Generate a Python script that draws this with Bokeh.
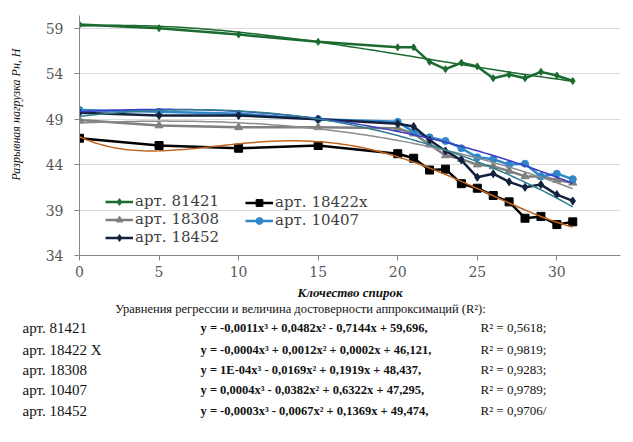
import numpy as np
from bokeh.plotting import figure
from bokeh.layouts import column
from bokeh.models import Range1d, Legend, LegendItem, FixedTicker
from bokeh.embed import file_html
from bokeh.resources import INLINE
from bokeh.core.properties import value

# ---------------- data ----------------
x_vals = [0, 5, 10, 15, 20, 21, 22, 23, 24, 25, 26, 27, 28, 29, 30, 31]
y_81421 = [59.4, 59.0, 58.3, 57.5, 56.9, 56.9, 55.3, 54.5, 55.2, 54.8, 53.5, 53.9, 53.5, 54.2, 53.8, 53.2]
y_18422 = [46.9, 46.1, 45.8, 46.1, 45.2, 44.7, 43.4, 43.5, 41.9, 41.4, 40.6, 39.9, 38.1, 38.3, 37.4, 37.7]
y_18308 = [48.9, 48.3, 48.1, 48.1, 48.0, 47.4, 46.2, 45.0, 44.6, 44.0, 43.8, 43.3, 42.7, 42.7, 42.3, 42.0]
y_10407 = [50.0, 49.8, 49.6, 49.0, 48.7, 47.6, 47.0, 46.6, 45.8, 44.8, 44.6, 44.0, 44.1, 42.7, 43.0, 42.4]
y_18452 = [49.7, 49.4, 49.4, 49.0, 48.5, 48.2, 46.7, 45.5, 44.5, 42.6, 43.0, 42.1, 41.5, 41.8, 40.7, 40.0]

series_names = ["арт. 81421", "арт. 18422x", "арт. 18308", "арт. 10407", "арт. 18452"]
trend_degrees = [3, 4, 3, 3, 3]
y_ticks = [34, 39, 44, 49, 54, 59]
x_ticks = [0, 5, 10, 15, 20, 25, 30]

eq_labels = ["арт. 81421", "арт. 18422 X", "арт. 18308", "арт. 10407", "арт. 18452"]
eq_texts = ["y = -0,0011x³ + 0,0482x² - 0,7144x + 59,696,",
            "y = -0,0004x³ + 0,0012x² + 0,0002x + 46,121,",
            "y = 1E-04x³ - 0,0169x² + 0,1919x + 48,437,",
            "y = 0,0004x³ - 0,0382x² + 0,6322x + 47,295,",
            "y = -0,0003x³ - 0,0067x² + 0,1369x + 49,474,"]
r2_texts = ["R² = 0,5618;", "R² = 0,9819;", "R² = 0,9283;", "R² = 0,9789;", "R² = 0,9706/"]
eq_title = "Уравнения регрессии и величина достоверности аппроксимаций (R²):"
y_title = "Разрывная нагрузка Pн, Н"
x_title = "Клочество спирок"

# ---------------- chart ----------------
SERIF = "'Liberation Serif', 'Times New Roman', serif"
WIDE = "'DejaVu Serif', serif"

H1 = 302
p = figure(width=633, height=H1, output_backend="svg", toolbar_location=None,
           x_range=Range1d(0, 34), y_range=Range1d(34, 60.4), frame_align=False,
           min_border_left=79, min_border_right=13, min_border_top=15, min_border_bottom=46)
p.outline_line_color = None
p.background_fill_color = "white"
p.border_fill_color = "white"

p.xgrid.grid_line_color = None
p.ygrid.grid_line_color = "#D9D9D9"
p.ygrid.ticker = FixedTicker(ticks=y_ticks)

for ax in (p.xaxis[0], p.yaxis[0]):
    ax.axis_line_color = "#868686"
    ax.major_tick_line_color = "#868686"
    ax.major_tick_out = 5
    ax.major_tick_in = 0
    ax.minor_tick_line_color = None
    ax.major_label_text_font = WIDE
    ax.major_label_text_font_size = "14px"
    ax.major_label_text_color = "#595959"

p.yaxis.ticker = FixedTicker(ticks=y_ticks)
p.xaxis.ticker = FixedTicker(ticks=x_ticks)
p.yaxis.major_label_standoff = 11
p.xaxis.major_label_standoff = 5

# leading no-break spaces lift the visible label above the frame centre, as in the source
p.yaxis.axis_label = "\u00a0" * 14 + y_title
p.yaxis.axis_label_text_font = SERIF
p.yaxis.axis_label_text_font_style = "italic"
p.yaxis.axis_label_text_font_size = "12px"
p.yaxis.axis_label_text_color = "#111111"
p.yaxis.axis_label_standoff = 20

p.xaxis.axis_label = x_title
p.xaxis.axis_label_text_font = SERIF
p.xaxis.axis_label_text_font_style = "bold italic"
p.xaxis.axis_label_text_font_size = "13px"
p.xaxis.axis_label_text_color = "#111111"
p.xaxis.axis_label_standoff = 5

x_fit = np.linspace(0, 31, 125)

data_series = [y_81421, y_18422, y_18308, y_10407, y_18452]
line_colors = ["#1B6B30", "#000000", "#7F7F7F", "#2F86C8", "#13213F"]
markers = ["diamond", "square", "triangle", "circle", "diamond"]
msizes = [7, 8, 8, 7, 8]
trend_colors = ["#1B6B30", "#C0631C", "#8C8C8C", "#3B3BC4", "#2F7F8F"]

items = []
for ys, lc, mk, ms, name in zip(data_series, line_colors, markers, msizes, series_names):
    lr = p.line(x_vals, ys, line_color=lc, line_width=2.5)
    sr = p.scatter(x_vals, ys, marker=mk, size=ms, fill_color=lc, line_color=lc)
    items.append(LegendItem(label=name, renderers=[lr, sr]))

for ys, tc, deg in zip(data_series, trend_colors, trend_degrees):
    coefs = np.polyfit(x_vals, ys, deg)
    p.line(x_fit, np.polyval(coefs, x_fit), line_color=tc, line_width=1.5)

leg_kw = dict(orientation="vertical", label_text_font=WIDE, label_text_font_size="15px",
              label_text_color="#404040", glyph_width=28, glyph_height=17, label_standoff=2,
              spacing=0, padding=0, margin=0, label_height=17,
              border_line_color=None, background_fill_alpha=0)
legend1 = Legend(items=[items[0], items[2], items[4]], location=(26, 9), **leg_kw)
legend2 = Legend(items=[items[1], items[3]], location=(166, 26), **leg_kw)
p.add_layout(legend1)
p.add_layout(legend2)

# ---------------- equations block ----------------
H2 = 138
q = figure(width=633, height=H2, output_backend="svg", toolbar_location=None,
           x_range=Range1d(0, 633), y_range=Range1d(H2, 0), frame_align=False,
           x_axis_location=None, y_axis_location=None, min_border=0)
q.grid.visible = False
q.outline_line_color = None

common = dict(text_font=value(SERIF), text_baseline="middle", text_color="#111111")
q.text(x=[300], y=[6], text=[eq_title], text_align="center", text_font_size="12.5px", **common)
row_y = [25, 47, 67, 87, 108]
q.text(x=[22] * 5, y=row_y, text=eq_labels, text_font_size="15px", **common)
q.text(x=[200] * 5, y=row_y, text=eq_texts, text_font_style="bold", text_font_size="12.5px", **common)
q.text(x=[480] * 5, y=row_y, text=r2_texts, text_font_size="13px", **common)

layout = column(p, q, spacing=0)
open("out.html", "w").write(file_html(layout, INLINE))
